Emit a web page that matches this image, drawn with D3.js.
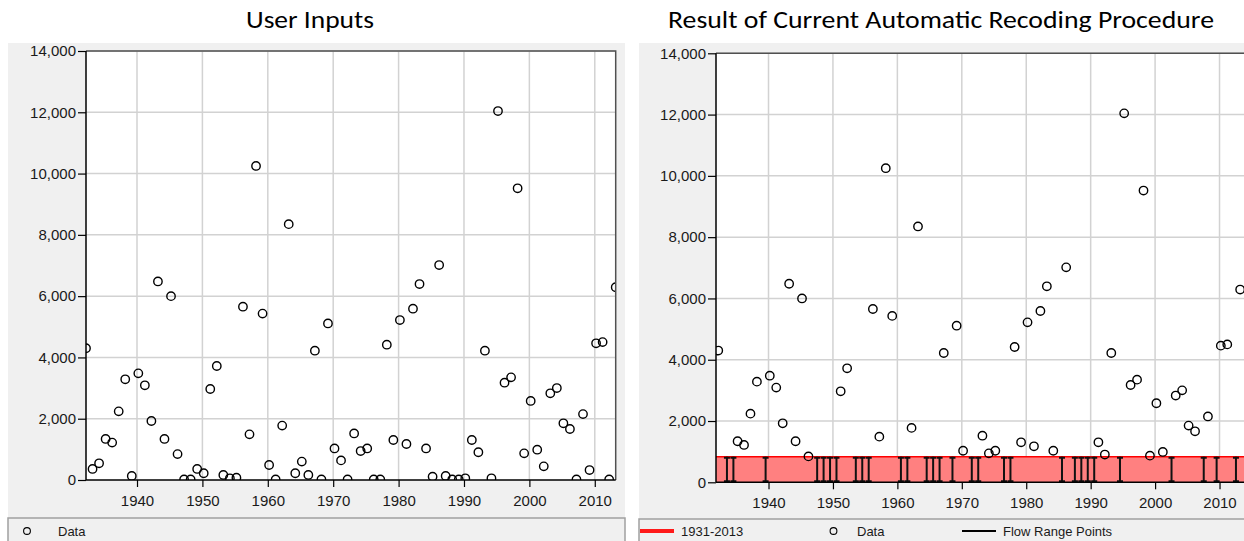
<!DOCTYPE html>
<html>
<head>
<meta charset="utf-8">
<script src="https://cdn.jsdelivr.net/npm/d3@7"></script>
<style>
  body { margin: 0; background: #fff; }
  svg { display: block; }
  .tick text, .lab { font-family: "Liberation Sans", Arial, sans-serif; fill: #1a1a1a; }
</style>
</head>
<body>
<svg id="chart" width="1244" height="541"></svg>
<script>
// Annual peak flow series (water years 1932-2013)
const years = d3.range(1932, 2014);
const flows = [
  4300, 360, 545, 1340, 1220, 2240, 3285, 130, 3480, 3090,
  1925, 6480, 1340, 6000, 845, 20, 20, 360, 220, 2970,
  3720, 165, 55, 75, 5655, 1490, 10250, 5430, 490, 20,
  1775, 8350, 220, 600, 165, 4220, 20, 5110, 1030, 640,
  20, 1520, 945, 1030, 20, 20, 4415, 1305, 5220, 1175,
  5590, 6395, 1030, 110, 7015, 130, 20, 20, 55, 1305,
  905, 4220, 55, 12040, 3175, 3350, 9520, 870, 2580, 990,
  445, 2830, 3000, 1850, 1665, 20, 2150, 325, 4460, 4500,
  20, 6290
];
const yTicks = [0, 2000, 4000, 6000, 8000, 10000, 12000, 14000];
const xTicks = [1940, 1950, 1960, 1970, 1980, 1990, 2000, 2010];
const rangeThreshold = 830;          // upper limit of the recoded flow range
const rangePeriod = [1931, 2013];    // period covered by the flow range band
const titles = ["User Inputs", "Result of Current Automatic Recoding Procedure"];

const svg = d3.select("#chart");
const fmt = d3.format(",");

const panels = [
  { title: titles[0], titleX: 310, titleW: 128, bg: [8, 625],
    plot: { x0: 86, x1: 615.7, y0: 51, y1: 480 }, domain: [1932.2, 2013.2],
    recoded: false, legendTop: 518 },
  { title: titles[1], titleX: 941, titleW: 546, bg: [639, 1260],
    plot: { x0: 716, x1: 1245.3, y0: 53.3, y1: 482.3 }, domain: [1931.85, 2014],
    recoded: true, legendTop: 519 }
];

panels.forEach((p, i) => {
  const g = svg.append("g");
  const P = p.plot;
  const x = d3.scaleLinear().domain(p.domain).range([P.x0, P.x1]);
  const y = d3.scaleLinear().domain([0, 14000]).range([P.y1, P.y0]);

  // panel title
  svg.append("text")
    .attr("x", p.titleX).attr("y", 28)
    .attr("text-anchor", "middle")
    .attr("textLength", p.titleW)
    .attr("lengthAdjust", "spacingAndGlyphs")
    .style("font-family", "Carlito, Lato, 'Open Sans', sans-serif")
    .style("font-size", "24px").style("fill", "#000")
    .text(p.title);

  // grey panel background
  g.append("rect").attr("x", p.bg[0]).attr("y", 43)
    .attr("width", p.bg[1] - p.bg[0]).attr("height", 541 - 43)
    .attr("fill", "#f0f0f0");

  // plot area
  g.append("rect").attr("x", P.x0).attr("y", P.y0)
    .attr("width", P.x1 - P.x0).attr("height", P.y1 - P.y0)
    .attr("fill", "#fff");

  // grid
  g.append("g").selectAll("line").data(yTicks.slice(1)).join("line")
    .attr("x1", P.x0).attr("x2", P.x1)
    .attr("y1", d => y(d)).attr("y2", d => y(d))
    .attr("stroke", "#d2d2d2").attr("stroke-width", 1.5);
  g.append("g").selectAll("line").data(xTicks).join("line")
    .attr("x1", d => x(d)).attr("x2", d => x(d))
    .attr("y1", P.y0).attr("y2", P.y1)
    .attr("stroke", "#d2d2d2").attr("stroke-width", 1.5);

  const clipId = "clip" + i;
  svg.append("clipPath").attr("id", clipId).append("rect")
    .attr("x", P.x0).attr("y", P.y0 - 6)
    .attr("width", P.x1 - P.x0).attr("height", P.y1 - P.y0 + 6);
  const inner = g.append("g").attr("clip-path", `url(#${clipId})`);

  const pts = years.map((yr, k) => ({ yr, v: flows[k] }));

  if (p.recoded) {
    // flow range band
    inner.append("rect")
      .attr("x", x(rangePeriod[0])).attr("width", x(rangePeriod[1] + 1) - x(rangePeriod[0]))
      .attr("y", y(rangeThreshold)).attr("height", y(0) - y(rangeThreshold))
      .attr("fill", "#ff8080");
    inner.append("line")
      .attr("x1", x(rangePeriod[0])).attr("x2", x(rangePeriod[1] + 1))
      .attr("y1", y(rangeThreshold)).attr("y2", y(rangeThreshold))
      .attr("stroke", "#ff0000").attr("stroke-width", 1.5);

    // flow range points: years recoded to the range
    const low = pts.filter(d => d.v < rangeThreshold);
    const beams = inner.append("g").attr("stroke", "#111").attr("stroke-width", 2);
    beams.selectAll(null).data(low).join("line")
      .attr("x1", d => x(d.yr + 0.55)).attr("x2", d => x(d.yr + 0.55))
      .attr("y1", y(0)).attr("y2", y(rangeThreshold));
    [0, rangeThreshold].forEach(lev => {
      beams.selectAll(null).data(low).join("line")
        .attr("x1", d => x(d.yr + 0.55) - 3).attr("x2", d => x(d.yr + 0.55) + 3)
        .attr("y1", y(lev) + (lev ? 1 : -1)).attr("y2", y(lev) + (lev ? 1 : -1));
    });

    inner.selectAll("circle").data(pts.filter(d => d.v >= rangeThreshold)).join("circle")
      .attr("cx", d => x(d.yr + 0.2)).attr("cy", d => y(d.v)).attr("r", 4.2)
      .attr("fill", "none").attr("stroke", "#000").attr("stroke-width", 1.4);
  } else {
    inner.selectAll("circle").data(pts).join("circle")
      .attr("cx", d => x(d.yr + 0.2)).attr("cy", d => y(d.v)).attr("r", 4.2)
      .attr("fill", "none").attr("stroke", "#000").attr("stroke-width", 1.4);
  }

  // frame: top and right borders
  g.append("path")
    .attr("d", `M${P.x0},${P.y0}H${P.x1}V${P.y1}`)
    .attr("fill", "none").attr("stroke", "#505050").attr("stroke-width", 1.5);

  // axes
  const ya = g.append("g").attr("transform", `translate(${P.x0},0)`)
    .call(d3.axisLeft(y).tickValues(yTicks).tickFormat(fmt).tickSize(8).tickPadding(2));
  const xa = g.append("g").attr("transform", `translate(0,${P.y1})`)
    .call(d3.axisBottom(x).tickValues(xTicks).tickFormat(d3.format("d")).tickSize(7).tickPadding(8));
  [ya, xa].forEach(a => {
    a.select(".domain").attr("stroke", "#000").attr("stroke-width", 1.5);
    a.selectAll(".tick line").attr("stroke", "#000").attr("stroke-width", 1.2);
    a.selectAll(".tick text").style("font-size", "15px").style("font-family", null);
  });
  ya.select(".domain").attr("d", `M0,${P.y0}V${P.y1}`);
  xa.select(".domain").attr("d", `M${P.x0},0H${P.x1}`);

  // legend box
  g.append("rect").attr("x", p.bg[0]).attr("y", p.legendTop)
    .attr("width", p.bg[1] - p.bg[0]).attr("height", 40)
    .attr("fill", "#f0f0f0").attr("stroke", "#a0a0a0").attr("stroke-width", 1.5);
});

// legends
const lg = svg.append("g").attr("class", "lab").style("font-size", "13px");
function legendText(xp, label) {
  lg.append("text").attr("class", "lab").attr("x", xp).attr("y", 536).text(label);
}
function legendCircle(xp) {
  lg.append("circle").attr("cx", xp).attr("cy", 531).attr("r", 3.4)
    .attr("fill", "none").attr("stroke", "#000").attr("stroke-width", 1.1);
}
legendCircle(27);
legendText(58, "Data");

lg.append("line").attr("x1", 640).attr("x2", 674).attr("y1", 531).attr("y2", 531)
  .attr("stroke", "#ff1a1a").attr("stroke-width", 4);
legendText(681, rangePeriod.join("-"));
legendCircle(833.5);
legendText(857, "Data");
lg.append("line").attr("x1", 962).attr("x2", 996).attr("y1", 531).attr("y2", 531)
  .attr("stroke", "#000").attr("stroke-width", 2);
legendText(1003, "Flow Range Points");
</script>
</body>
</html>
